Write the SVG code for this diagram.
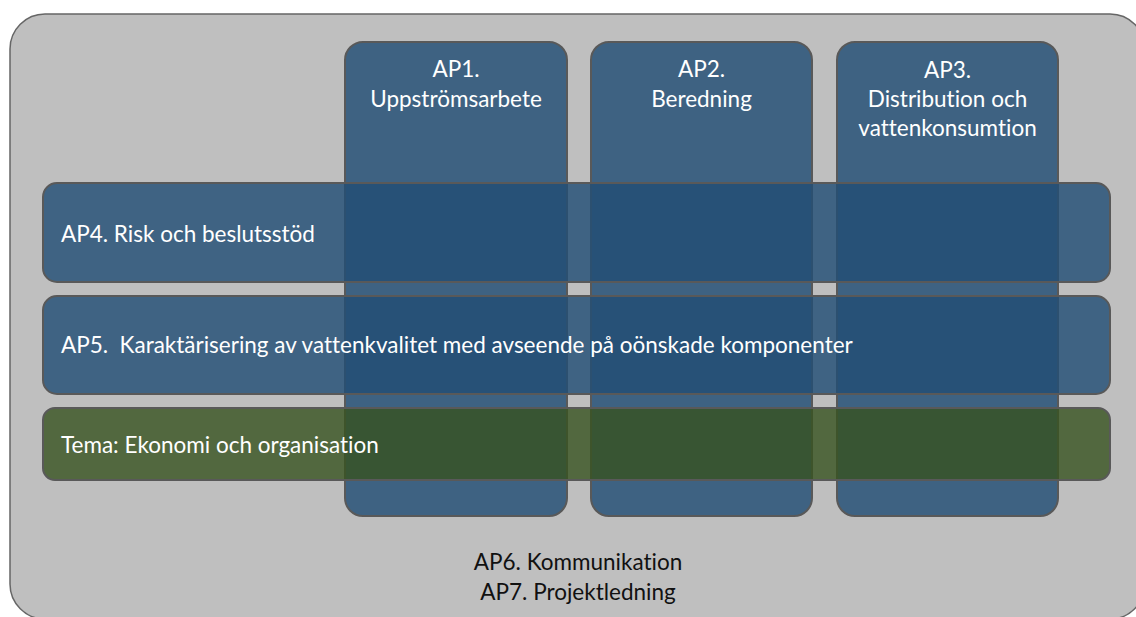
<svg xmlns="http://www.w3.org/2000/svg" width="1136" height="617" viewBox="0 0 1136 617">
  <style>
    .frame { fill: #bfbfbf; stroke: #666666; stroke-width: 1.5; }
    .col { fill: #3e6282; stroke: #595959; stroke-width: 2; }
    .row { fill: #224e75; fill-opacity: 0.82; stroke: #595959; stroke-width: 2; }
    .theme { fill: #37531f; fill-opacity: 0.8; stroke: #595959; stroke-width: 2; }
    text { font-family: Lato, "Open Sans", "Liberation Sans", sans-serif; font-size: 22.5px; font-variant-ligatures: none; }
    .lbl { fill: #ffffff; }
    .mid { text-anchor: middle; }
    .dark { fill: #111111; }
  </style>

  <!-- outer frame: communication and project management -->
  <g id="frame">
    <rect class="frame" x="10" y="14" width="1135" height="605" rx="35" ry="35"/>
    <text class="dark mid" x="578" y="570">AP6. Kommunikation</text>
    <text class="dark mid" x="578" y="600">AP7. Projektledning</text>
  </g>

  <!-- vertical work packages -->
  <g id="ap1">
    <rect class="col" x="345" y="42" width="222" height="474" rx="18" ry="18"/>
    <text class="lbl mid" x="456" y="77">AP1.</text>
    <text class="lbl mid" x="456" y="107">Uppströmsarbete</text>
  </g>
  <g id="ap2">
    <rect class="col" x="591" y="42" width="221" height="474" rx="18" ry="18"/>
    <text class="lbl mid" x="701.5" y="77">AP2.</text>
    <text class="lbl mid" x="701.5" y="107">Beredning</text>
  </g>
  <g id="ap3">
    <rect class="col" x="837" y="42" width="221" height="474" rx="18" ry="18"/>
    <text class="lbl mid" x="947.5" y="78">AP3.</text>
    <text class="lbl mid" x="947.5" y="107">Distribution och</text>
    <text class="lbl mid" x="947.5" y="136">vattenkonsumtion</text>
  </g>

  <!-- horizontal work packages across the columns -->
  <g id="ap4">
    <rect class="row" x="43" y="183" width="1067" height="99" rx="14" ry="14"/>
    <text class="lbl" x="61" y="242">AP4. Risk och beslutsstöd</text>
  </g>
  <g id="ap5">
    <rect class="row" x="43" y="296" width="1067" height="98" rx="14" ry="14"/>
    <text class="lbl" x="61" y="353" xml:space="preserve">AP5.  Karaktärisering av vattenkvalitet med avseende på oönskade komponenter</text>
  </g>
  <g id="tema">
    <rect class="theme" x="43" y="408" width="1067" height="72" rx="12" ry="12"/>
    <text class="lbl" x="61" y="453">Tema: Ekonomi och organisation</text>
  </g>

  <g id="connectors"/>
</svg>
